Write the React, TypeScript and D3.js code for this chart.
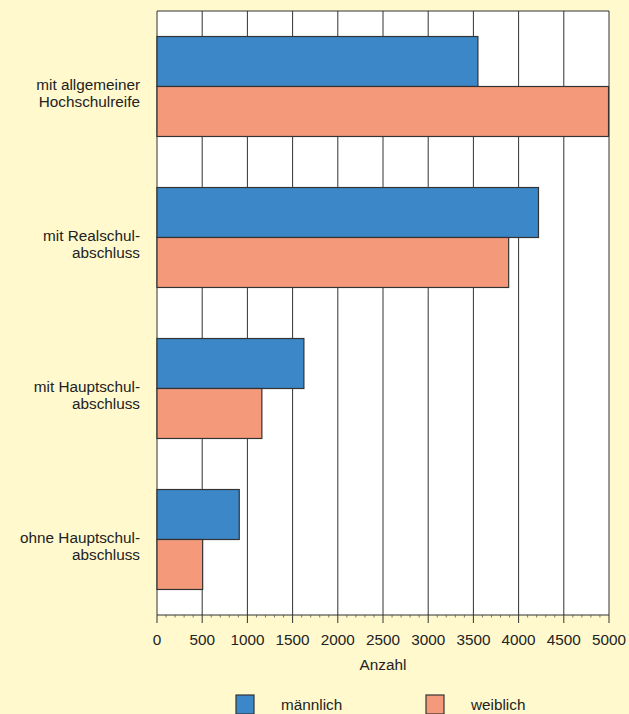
import React from 'react';
import * as d3 from 'd3';

const categories = [
  ['mit allgemeiner', 'Hochschulreife'],
  ['mit Realschul-', 'abschluss'],
  ['mit Hauptschul-', 'abschluss'],
  ['ohne Hauptschul-', 'abschluss'],
];
const maennlich = [3550, 4220, 1625, 910];
const weiblich = [4995, 3890, 1160, 505];
const seriesNames = ['männlich', 'weiblich'];
const tickValues = [0, 500, 1000, 1500, 2000, 2500, 3000, 3500, 4000, 4500, 5000];

const COLORS = ['#3C87C7', '#F4997A'];
const BG = '#FFF9CD';
const FONT = 'Liberation Sans, Arial, sans-serif';
const FS = 15.3;

export default function App() {
  const width = 629, height = 714;
  const left = 157, right = 609, top = 11, bottom = 615;

  const x = d3.scaleLinear().domain([0, 5000]).range([left, right]);
  const y = d3.scaleBand<number>().domain(d3.range(categories.length)).range([top, bottom]);
  const inner = d3.scaleBand<number>().domain([0, 1]).range([y.bandwidth() * 0.169, y.bandwidth() * 0.831]);
  const series = [maennlich, weiblich];
  const minor = d3.range(0, 5001, 100).filter(v => v % 500 !== 0);

  return (
    <svg width={width} height={height} style={{ position: 'absolute', left: 0, top: 0, background: BG }}>
      <rect x={0} y={0} width={width} height={height} fill={BG} />
      <rect x={left} y={top} width={right - left} height={bottom - top} fill="#fff" />
      {/* grid */}
      {tickValues.map(t => (
        <line key={t} x1={x(t)} x2={x(t)} y1={top} y2={bottom} stroke="#333" strokeWidth={1} />
      ))}
      <line x1={left} x2={right} y1={top} y2={top} stroke="#333" strokeWidth={1.2} />
      {/* bars */}
      {categories.map((c, i) => (
        <g key={i} transform={`translate(0,${y(i)})`}>
          {series.map((s, j) => (
            <rect key={j} x={x(0)} y={inner(j)} width={x(s[i]) - x(0)} height={inner.bandwidth()}
              fill={COLORS[j]} stroke="#333" strokeWidth={1.2} />
          ))}
          <text x={140} y={y.bandwidth() / 2 + 3} textAnchor="end" fontFamily={FONT} fontSize={FS} fill="#222">
            <tspan x={140}>{c[0]}</tspan>
            <tspan x={140} dy={17.5}>{c[1]}</tspan>
          </text>
        </g>
      ))}
      {/* axis */}
      <line x1={left} x2={right} y1={bottom} y2={bottom} stroke="#333" strokeWidth={1.2} />
      {minor.map(t => (
        <line key={t} x1={x(t)} x2={x(t)} y1={bottom} y2={bottom + 2.5} stroke="#555" strokeWidth={0.8} />
      ))}
      {tickValues.map(t => (
        <g key={t}>
          <line x1={x(t)} x2={x(t)} y1={bottom} y2={bottom + 8} stroke="#333" strokeWidth={1} />
          <text x={x(t)} y={645} textAnchor="middle" fontFamily={FONT} fontSize={FS} fill="#222">{t}</text>
        </g>
      ))}
      <text x={(left + right) / 2} y={670} textAnchor="middle" fontFamily={FONT} fontSize={FS} fill="#222">Anzahl</text>
      {/* legend */}
      {seriesNames.map((n, j) => (
        <g key={n} transform={`translate(${j === 0 ? 236 : 426},695)`}>
          <rect x={0} y={0} width={18} height={19} fill={COLORS[j]} stroke="#333" strokeWidth={1.2} />
          <text x={45} y={15} fontFamily={FONT} fontSize={FS} fill="#222">{n}</text>
        </g>
      ))}
    </svg>
  );
}
